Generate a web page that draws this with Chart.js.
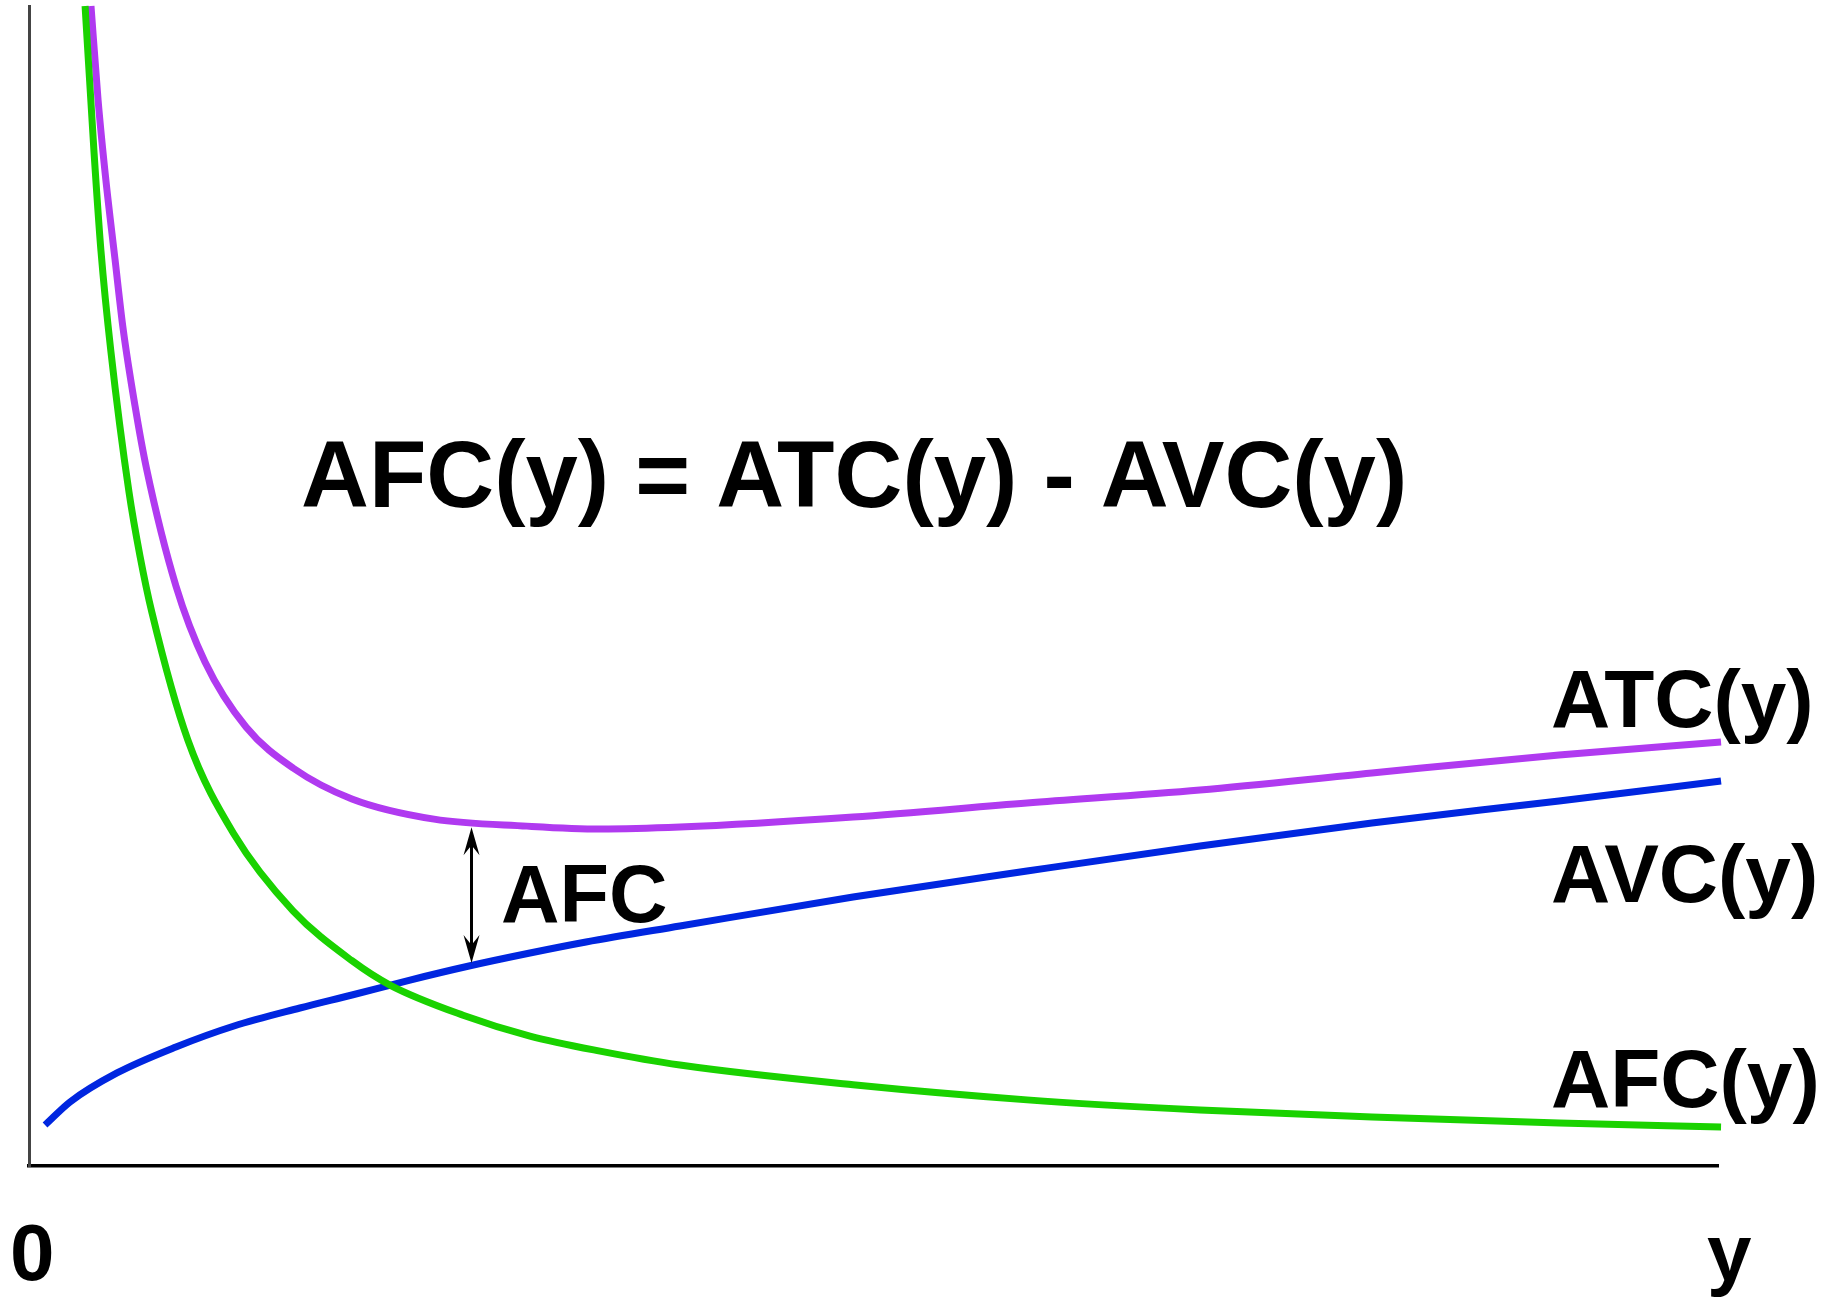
<!DOCTYPE html>
<html>
<head>
<meta charset="utf-8">
<script src="https://cdn.jsdelivr.net/npm/chart.js@4/dist/chart.umd.min.js"></script>
<style>
  html, body { margin: 0; padding: 0; background: #fff; }
  #wrap { width: 1838px; height: 1297px; position: relative; }
</style>
</head>
<body>
<div id="wrap"><canvas id="costChart"></canvas></div>
<script>
// output quantity y (0-100) and cost (0-100)
const atcQty  = [3.67, 4.09, 4.53, 5.09, 5.57, 6.28, 6.96, 8.70, 10.42, 12.85, 15.63, 19.12, 23.98, 29.48, 33.81, 38.54, 48.79, 59.09, 69.33, 79.51, 90.59, 100.18];
const atcCost = [100, 91.9, 85.3, 78.2, 72.2, 65.5, 60.1, 50.0, 43.45, 37.84, 34.31, 31.64, 29.9, 29.3, 29.05, 29.22, 30.09, 31.29, 32.41, 33.88, 35.43, 36.55];

const afcQty  = [3.32, 3.85, 4.26, 4.85, 5.92, 6.57, 7.28, 9.41, 12.14, 15.63, 19.12, 21.37, 25.70, 29.66, 33.81, 38.54, 48.79, 59.09, 69.33, 79.51, 90.59, 100.18];
const afcCost = [100, 87.4, 78.9, 70.2, 58.1, 52.6, 47.7, 36.7, 28.6, 22.0, 17.7, 15.6, 13.0, 11.2, 9.9, 8.7, 7.0, 5.7, 4.83, 4.22, 3.71, 3.36];

const avcQty  = [0.95, 2.43, 5.21, 8.70, 12.14, 16.04, 19.12, 22.56, 26.05, 29.66, 32.98, 38.54, 48.79, 59.09, 69.33, 79.51, 90.59, 100.18];
const avcCost = [3.53, 5.52, 8.02, 10.26, 12.07, 13.62, 14.74, 16.03, 17.24, 18.36, 19.31, 20.69, 23.19, 25.43, 27.59, 29.57, 31.47, 33.19];

// the AFC gap arrow: quantity and the two costs it spans
const gapQty = 26.2;
const gapCost = [17.5, 29.2];

const curveLabels = ['ATC(y)', 'AVC(y)', 'AFC(y)'];
const formula = 'AFC(y) = ATC(y) - AVC(y)';
const xAxisLabel = 'y';
const originLabel = '0';

const toPoints = (xs, ys) => xs.map((x, i) => ({ x: x, y: ys[i] }));

const FONT = '"Liberation Sans", Arial, Helvetica, sans-serif';

const annotations = {
  id: 'annotations',
  afterDatasetsDraw(chart) {
    const ctx = chart.ctx;
    const xs = chart.scales.x, ys = chart.scales.y;

    // double headed arrow between ATC and AVC
    const ax = xs.getPixelForValue(gapQty);
    const top = ys.getPixelForValue(gapCost[1]);
    const bot = ys.getPixelForValue(gapCost[0]);
    ctx.save();
    ctx.strokeStyle = '#000';
    ctx.fillStyle = '#000';
    ctx.lineWidth = 3;
    ctx.beginPath();
    ctx.moveTo(ax, top + 12);
    ctx.lineTo(ax, bot - 12);
    ctx.stroke();
    const head = (tipY, dir) => {
      ctx.beginPath();
      ctx.moveTo(ax, tipY);
      ctx.lineTo(ax + 8, tipY + dir * 28);
      ctx.lineTo(ax, tipY + dir * 18);
      ctx.lineTo(ax - 8, tipY + dir * 28);
      ctx.closePath();
      ctx.fill();
    };
    head(top, 1);
    head(bot, -1);

    ctx.textBaseline = 'alphabetic';
    ctx.textAlign = 'left';
    ctx.font = 'bold 94px ' + FONT;
    ctx.fillText(formula, 301, 507);

    ctx.font = 'bold 81px ' + FONT;
    ctx.fillText('AFC', 501, 922);
    ctx.font = 'bold 82px ' + FONT;
    ctx.fillText(curveLabels[0], 1551, 727);
    ctx.fillText(curveLabels[1], 1551, 902);
    ctx.fillText(curveLabels[2], 1551, 1107);
    ctx.font = 'bold 80px ' + FONT;
    ctx.fillText(originLabel, 10, 1280);
    ctx.fillText(xAxisLabel, 1707, 1280);
    ctx.restore();
  }
};

const lineStyle = {
  showLine: true,
  pointRadius: 0,
  borderWidth: 7,
  cubicInterpolationMode: 'monotone',
  clip: false,
  fill: false
};

new Chart(document.getElementById('costChart'), {
  type: 'scatter',
  data: {
    datasets: [
      Object.assign({ label: 'AFC(y)', data: toPoints(afcQty, afcCost), borderColor: '#1ad200' }, lineStyle),
      Object.assign({ label: 'AVC(y)', data: toPoints(avcQty, avcCost), borderColor: '#0026e0' }, lineStyle),
      Object.assign({ label: 'ATC(y)', data: toPoints(atcQty, atcCost), borderColor: '#b03af0' }, lineStyle)
    ]
  },
  options: {
    responsive: true,
    maintainAspectRatio: false,
    animation: false,
    devicePixelRatio: 1,
    layout: { padding: { left: 29, right: 120, top: 6, bottom: 131 } },
    plugins: { legend: { display: false }, tooltip: { enabled: false } },
    scales: {
      x: {
        type: 'linear', min: 0, max: 100,
        ticks: { display: false },
        grid: { color: 'transparent', drawTicks: false },
        border: { display: true, color: '#000', width: 3.5 }
      },
      y: {
        type: 'linear', min: 0, max: 100,
        ticks: { display: false },
        grid: { color: 'transparent', drawTicks: false },
        border: { display: true, color: '#444', width: 3 }
      }
    }
  },
  plugins: [annotations]
});
</script>
</body>
</html>
